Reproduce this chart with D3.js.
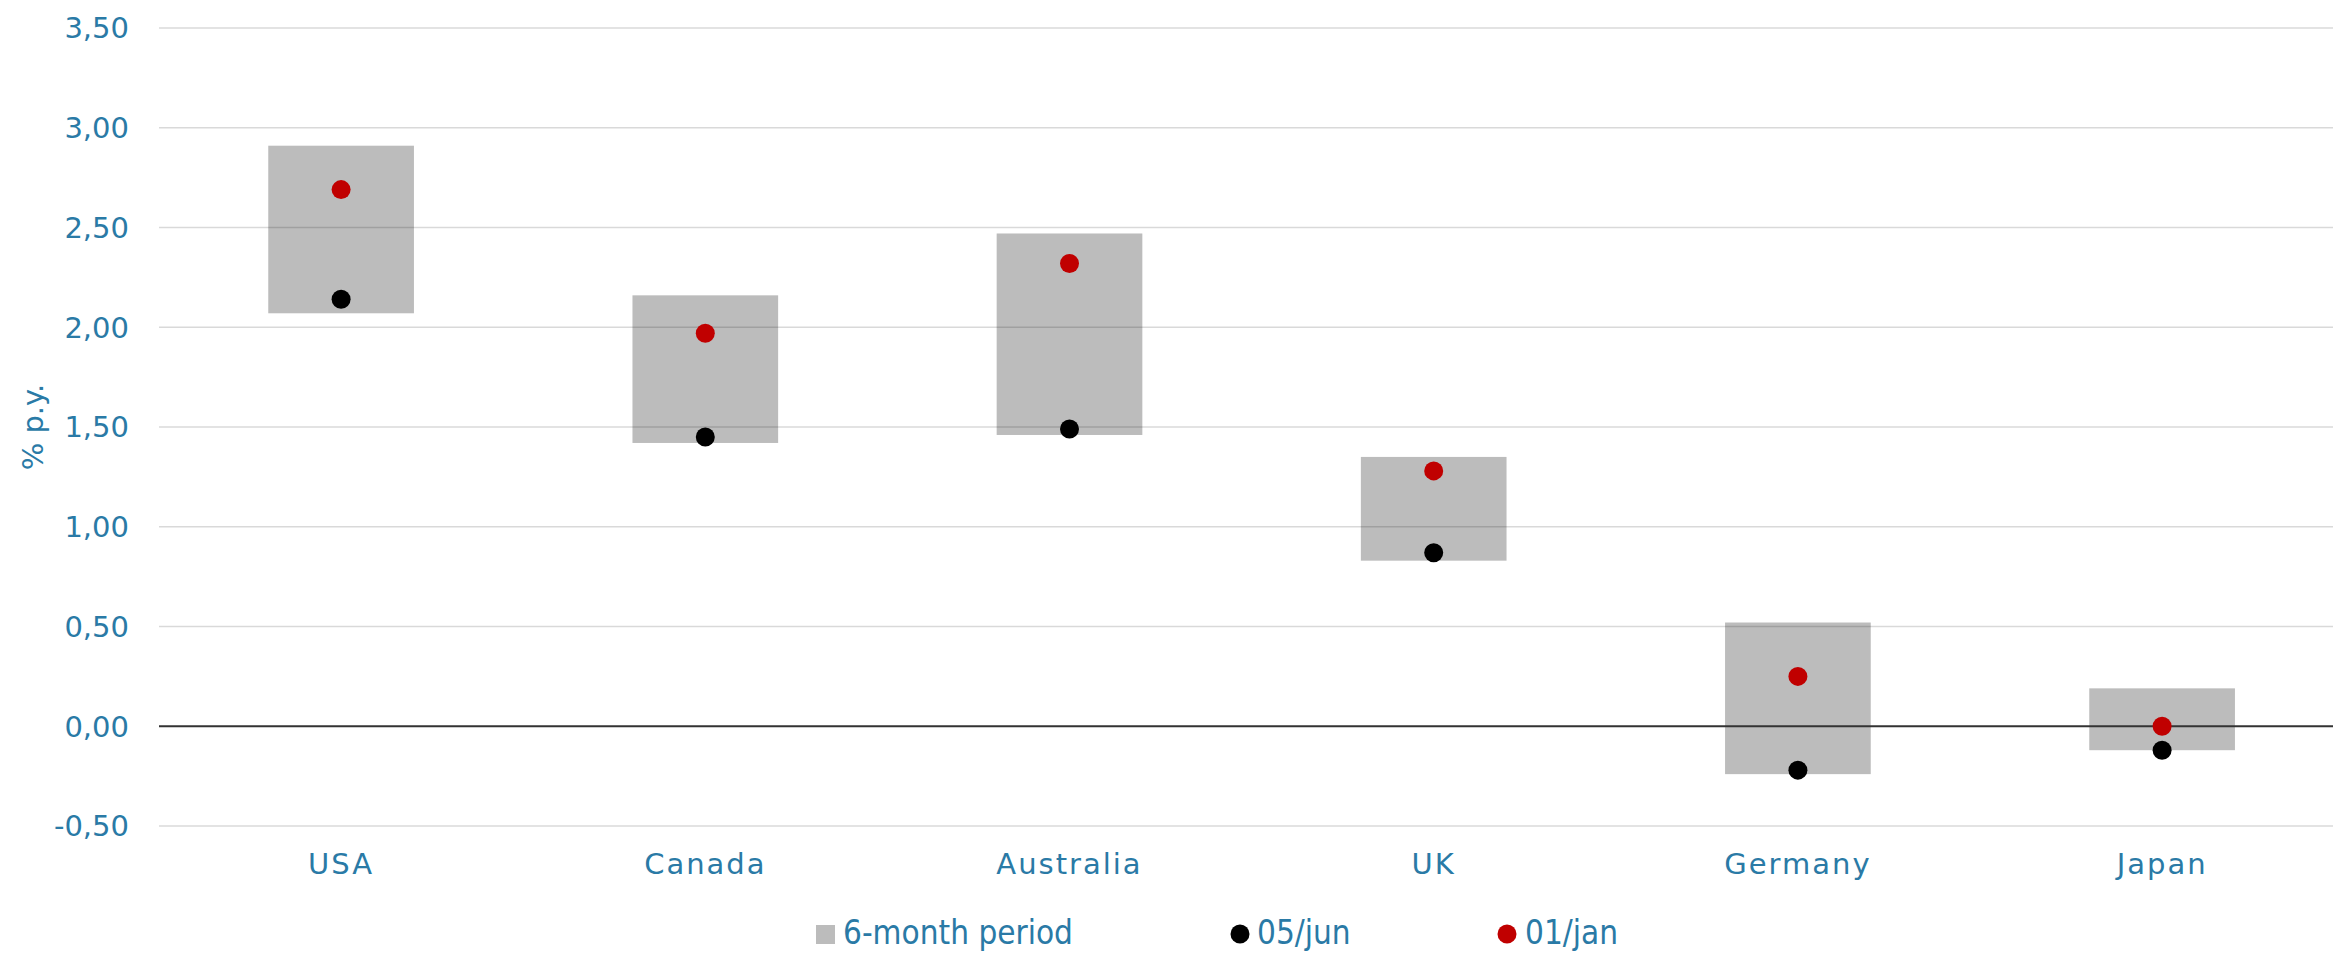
<!DOCTYPE html>
<html>
<head>
<meta charset="utf-8">
<script src="https://cdn.jsdelivr.net/npm/d3@7"></script>
<style>
    body { margin: 0; background: #fff; }
    text { font-family: "DejaVu Sans", sans-serif; fill: #2a7aa6; }
</style>
</head>
<body>
<div id="chart"></div>
<script>
const countries = ["USA", "Canada", "Australia", "UK", "Germany", "Japan"];
const periodHigh = [2.91, 2.16, 2.47, 1.35, 0.52, 0.19];
const periodLow = [2.07, 1.42, 1.46, 0.83, -0.24, -0.12];
const jun05 = [2.14, 1.45, 1.49, 0.87, -0.22, -0.12];
const jan01 = [2.69, 1.97, 2.32, 1.28, 0.25, 0.00];
const yTicks = [-0.5, 0, 0.5, 1, 1.5, 2, 2.5, 3, 3.5];
const legendItems = ["6-month period", "05/jun", "01/jan"];

const width = 2333, height = 954;
const plotLeft = 159, plotRight = 2333;

const barColor = "#bcbcbc";
const junColor = "#000000";
const janColor = "#c00000";

let data = countries.map((c, i) => ({
    country: c,
    high: periodHigh[i],
    low: periodLow[i],
    jun: jun05[i],
    jan: jan01[i]
}));

let svg = d3.select("#chart").append("svg")
    .attr("width", width)
    .attr("height", height);

let x = d3.scaleBand()
    .domain(countries)
    .range([plotLeft, plotLeft + 6 * 364.2])
    .paddingInner(0.6)
    .paddingOuter(0.3);

let y = d3.scaleLinear()
    .domain([-0.5, 3.5])
    .range([826, 28]);

let fmt = v => d3.format(".2f")(v).replace(".", ",").replace("−", "-");

// bars (6-month range)
svg.append("g")
    .selectAll("rect")
    .data(data)
    .join("rect")
    .attr("x", d => x(d.country))
    .attr("y", d => y(d.high))
    .attr("width", x.bandwidth())
    .attr("height", d => y(d.low) - y(d.high))
    .style("fill", barColor);

// gridlines drawn over bars
svg.append("g")
    .selectAll("line")
    .data(yTicks.filter(t => t !== 0))
    .join("line")
    .attr("x1", plotLeft)
    .attr("x2", plotRight)
    .attr("y1", d => y(d))
    .attr("y2", d => y(d))
    .style("stroke", "rgba(0,0,0,0.15)")
    .style("stroke-width", 1.5);

// zero line
svg.append("line")
    .attr("x1", plotLeft)
    .attr("x2", plotRight)
    .attr("y1", y(0))
    .attr("y2", y(0))
    .style("stroke", "#333")
    .style("stroke-width", 2.2);

// y tick labels
svg.append("g")
    .selectAll("text")
    .data(yTicks)
    .join("text")
    .attr("x", 129)
    .attr("y", d => y(d))
    .attr("dy", "0.36em")
    .attr("text-anchor", "end")
    .style("font-size", "29px")
    .text(fmt);

// x axis labels
let xAxis = svg.append("g")
    .attr("transform", `translate(0, 848)`)
    .call(d3.axisBottom(x).tickSize(0).tickPadding(0));
xAxis.select(".domain").remove();
xAxis.selectAll("text")
    .style("font-size", "29px")
    .style("font-family", "DejaVu Sans")
    .style("letter-spacing", "2px")
    .style("fill", "#2a7aa6")
    .attr("dy", "0.9em");

// y axis title
svg.append("text")
    .attr("transform", "translate(43, 427) rotate(-90)")
    .attr("text-anchor", "middle")
    .style("font-size", "29px")
    .text("% p.y.");

// points
svg.append("g")
    .selectAll("circle")
    .data(data)
    .join("circle")
    .attr("cx", d => x(d.country) + x.bandwidth() / 2)
    .attr("cy", d => y(d.jun))
    .attr("r", 9.5)
    .style("fill", junColor);

svg.append("g")
    .selectAll("circle")
    .data(data)
    .join("circle")
    .attr("cx", d => x(d.country) + x.bandwidth() / 2)
    .attr("cy", d => y(d.jan))
    .attr("r", 9.5)
    .style("fill", janColor);

// legend
let legend = svg.append("g");
legend.append("rect")
    .attr("x", 816).attr("y", 925)
    .attr("width", 19).attr("height", 19)
    .style("fill", barColor);
legend.append("circle")
    .attr("cx", 1240).attr("cy", 934).attr("r", 9.5)
    .style("fill", junColor);
legend.append("circle")
    .attr("cx", 1507).attr("cy", 934).attr("r", 9.5)
    .style("fill", janColor);

let legendX = [843, 1257, 1525];
legend.selectAll("text")
    .data(legendItems)
    .join("text")
    .attr("x", (d, i) => legendX[i])
    .attr("y", 944)
    .style("font-family", "'DejaVu Sans Condensed', 'DejaVu Sans'")
    .style("font-stretch", "condensed")
    .style("font-size", "33px")
    .text(d => d);
</script>
</body>
</html>
